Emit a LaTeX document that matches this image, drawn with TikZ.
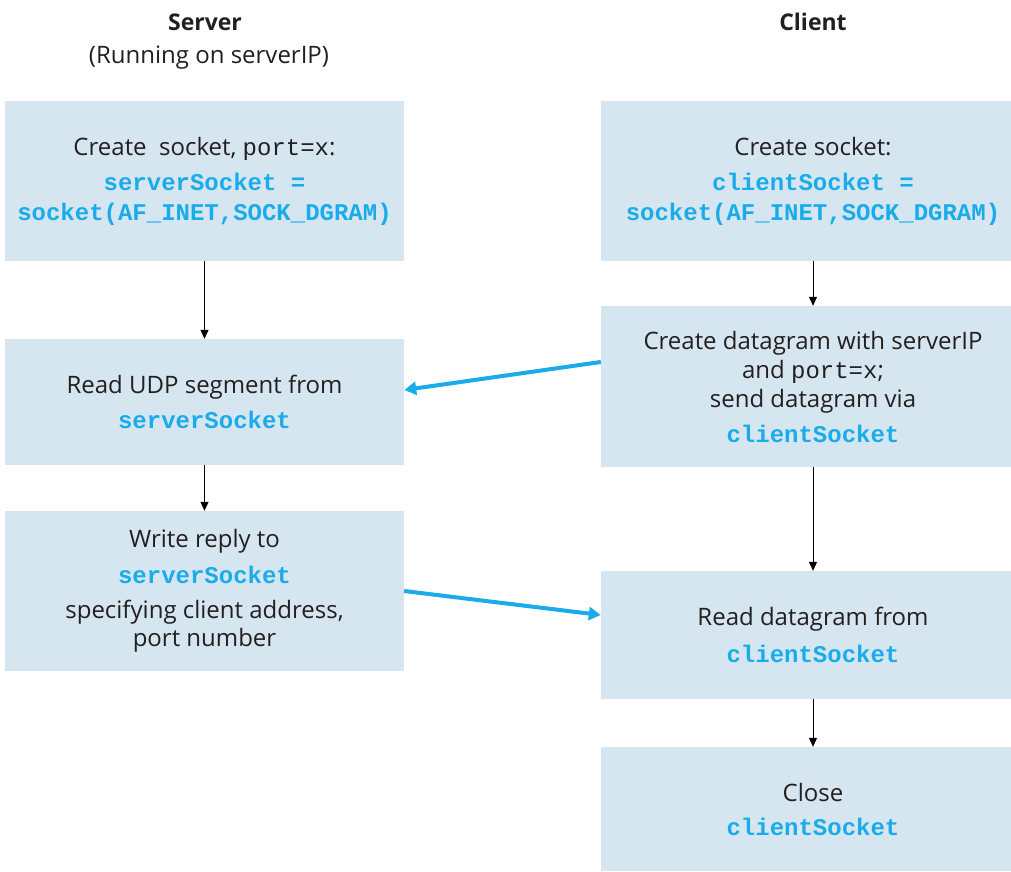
\documentclass[tikz,border=0pt]{standalone}
\usepackage{fontspec}
\setmainfont{Open Sans}
\newfontfamily\codefont{Liberation Mono}
\usetikzlibrary{arrows.meta}
\definecolor{boxfill}{HTML}{D5E6F0}
\definecolor{codeblue}{HTML}{1AACEA}
\definecolor{txt}{HTML}{231F20}
\newcommand{\cb}[1]{{\codefont\bfseries\color{codeblue}#1}}
\newcommand{\cm}[1]{{\codefont #1}}
\tikzset{
  stepbox/.style={fill=boxfill, draw=none, align=center, text=txt, font=\fontsize{24}{30}\selectfont, inner sep=0pt},
  flow/.style={-{Triangle[length=9pt,width=8pt]}, line width=1pt, black},
  msg/.style={-{Triangle[length=12pt,width=13pt]}, line width=4pt, codeblue},
  header/.style={text=txt, font=\fontsize{24}{30}\selectfont}
}
\begin{document}
\begin{tikzpicture}[x=1pt,y=-1pt]
\clip (0,0) rectangle (1011,871);
\node[header, font=\fontsize{23}{30}\selectfont\bfseries] (sh) at (205,22) {Server};
\node[header] (sh2) at (209,58) {(Running on serverIP)};
\node[header, font=\fontsize{23}{30}\selectfont\bfseries] (ch) at (813,22) {Client};

\node[stepbox, minimum width=399pt, minimum height=160pt] (S1) at (204.5,181)
  {Create\ \ socket, \cm{port=x}:\\[5pt] \cb{serverSocket =}\\[0pt] \cb{socket(AF\_INET,SOCK\_DGRAM)}};
\node[stepbox, minimum width=399pt, minimum height=126pt] (S2) at (204.5,402)
  {Read UDP segment from\\[5pt] \cb{serverSocket}};
\node[stepbox, minimum width=399pt, minimum height=160pt] (S3) at (204.5,591)
  {Write reply to\\[6pt] \cb{serverSocket}\\[5pt] specifying client address,\\[-2pt] port number};

\node[stepbox, minimum width=424pt, minimum height=160pt] (C1) at (813,181)
  {Create socket:\\[5pt] \cb{clientSocket =}\\[0pt] \cb{socket(AF\_INET,SOCK\_DGRAM)}};
\node[stepbox, minimum width=424pt, minimum height=161pt] (C2) at (813,386.5)
  {Create datagram with serverIP\\[-1pt] and \cm{port=x};\\[-1pt] send datagram via\\[5pt] \cb{clientSocket}};
\node[stepbox, minimum width=424pt, minimum height=128pt] (C3) at (813,635)
  {Read datagram from\\[7pt] \cb{clientSocket}};
\node[stepbox, minimum width=424pt, minimum height=124pt] (C4) at (813,809)
  {Close\\[4pt] \cb{clientSocket}};

\draw[flow] (S1.south) -- (S2.north);
\draw[flow] (S2.south) -- (S3.north);
\draw[flow] (C1.south) -- (C2.north);
\draw[flow] (C2.south) -- (C3.north);
\draw[flow] (C3.south) -- (C4.north);

\draw[msg] ([yshift=24.5pt]C2.west) -- ([yshift=12pt]S2.east);
\draw[msg] (S3.east) -- ([yshift=20pt]C3.west);
\end{tikzpicture}
\end{document}
